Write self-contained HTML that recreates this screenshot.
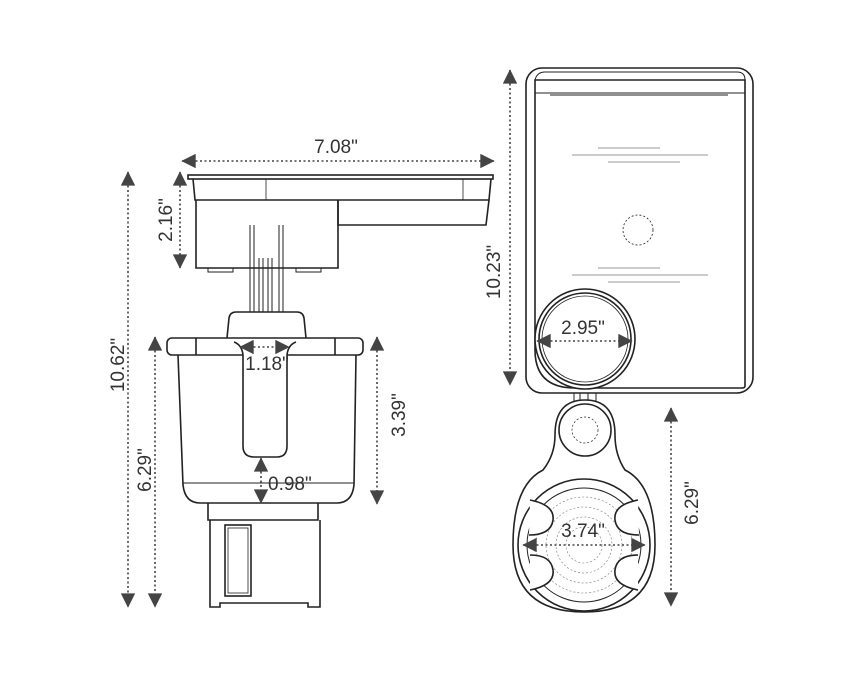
<!DOCTYPE html>
<html><head><style>body{margin:0;background:#fff}svg{display:block}text{font-family:"Liberation Sans",sans-serif;font-size:19px;fill:#333}</style></head><body>
<svg width="860" height="700" viewBox="0 0 860 700" xmlns="http://www.w3.org/2000/svg">
<defs>
<marker id="a" viewBox="0 0 10 10" refX="9.5" refY="5" markerWidth="10" markerHeight="9" orient="auto-start-reverse"><path d="M0,0L10,5L0,10z" fill="#444"/></marker>
</defs>
<g stroke="#222" stroke-width="1.6" fill="none">
<rect x="188" y="175" width="305" height="4" fill="#fff"/>
<path d="M193,179 L195,200 L489,200 L491,179"/>
<path d="M196,200 V268 H338 V200"/>
<path d="M338,200 V225 H486 L489,200"/>
<line x1="266" y1="179" x2="266" y2="200" stroke-width="0.8"/>
<line x1="463" y1="179" x2="463" y2="200" stroke-width="0.8"/>
<path d="M208,268 v4 h25 v-4 M296,268 v4 h25 v-4" stroke-width="1"/>
<path d="M250,225 V312 M254,225 V312 M279,225 V312 M283,225 V312 M259,258 V312 M263,258 V312 M268,258 V312 M272,258 V312" stroke-width="1"/>
<path d="M227,338 L229,318 Q230,312 236,312 H297 Q303,312 304,318 L306,338"/>
<rect x="167" y="338" width="196" height="17" rx="5" fill="#fff"/>
<line x1="196" y1="338" x2="196" y2="355"/><line x1="335" y1="338" x2="335" y2="355"/>
<path d="M178,355 L183,485 Q185,503 200,503 H337 Q352,503 354,485 L356,355"/>
<line x1="183" y1="483" x2="354" y2="483" stroke-width="1"/>
<path d="M234,342 Q242,345 243,355 V446 Q243,457 254,457 H277 Q287,457 287,446 V355 Q288,345 296,342" fill="#fff"/>
<path d="M208,503 V520 H318 V503 M210,520 V607 L220,607 L220,603 H308 V607 H320 V520"/>
<rect x="225" y="525" width="26" height="71"/>
<rect x="228" y="528" width="20" height="65" stroke-width="0.8"/>
<rect x="526" y="68" width="227" height="325" rx="16"/>
<path d="M535,80 H745 V386 Q745,388 742,388 H575 Q535,388 535,350 Z"/>
<path d="M535,80 Q537,72 545,72 H737 Q745,72 745,80 M535,93 H745 M550,95 H728" stroke-width="1"/>
<circle cx="585" cy="339" r="50" fill="#fff"/>
<circle cx="585" cy="339" r="46"/>
<circle cx="585" cy="339" r="43" stroke-width="0.8"/>
<circle cx="638" cy="230" r="15" stroke-dasharray="2,2" stroke-width="0.8"/>
<g stroke="#999" stroke-width="1"><path d="M598,148H660 M572,155H708 M608,162H680 M598,268H660 M572,275H708 M608,282H680"/></g>
<path d="M574,393 V418 M580,393 V418 M588,393 V418 M596,393 V418" stroke-width="1"/>
<path d="M555,435 Q555,400 585,400 Q615,400 615,435 Q615,455 625,470 Q655,485 655,545 Q655,612 584,612 Q513,612 513,545 Q513,485 543,470 Q555,455 555,435 Z" fill="#fff"/>
<circle cx="585" cy="430" r="26"/>
<circle cx="585" cy="430" r="13" stroke-dasharray="2,2" stroke-width="0.7"/>
<circle cx="584" cy="545" r="66"/>
<circle cx="584" cy="545" r="57" stroke-width="1"/>
<g stroke-dasharray="2,2" stroke-width="0.6" stroke="#777"><circle cx="584" cy="545" r="48"/><circle cx="584" cy="545" r="38"/><circle cx="584" cy="545" r="28"/><circle cx="584" cy="545" r="18"/></g>
<path d="M530,500 Q555,505 553,520 Q551,535 529,535 M530,555 Q551,555 553,570 Q555,585 530,590 M638,500 Q613,505 615,520 Q617,535 639,535 M638,555 Q617,555 615,570 Q613,585 638,590" fill="#fff"/>
</g>
<g stroke="#444" stroke-width="1.6" stroke-dasharray="2,2.5" marker-start="url(#a)" marker-end="url(#a)" fill="none">
<line x1="182" y1="161" x2="494" y2="161"/>
<line x1="180" y1="172" x2="180" y2="268"/>
<line x1="128" y1="172" x2="128" y2="607"/>
<line x1="155" y1="337" x2="155" y2="607"/>
<line x1="377" y1="337" x2="377" y2="504"/>
<line x1="240" y1="347" x2="289" y2="347"/>
<line x1="261" y1="458" x2="261" y2="503"/>
<line x1="510" y1="70" x2="510" y2="385"/>
<line x1="537" y1="341" x2="632" y2="341"/>
<line x1="523" y1="545" x2="645" y2="545"/>
<line x1="671" y1="408" x2="671" y2="606"/>
</g>
<text x="336" y="153" text-anchor="middle">7.08"</text>
<text x="267" y="370" text-anchor="middle">1.18"</text>
<text x="268" y="490">0.98"</text>
<text x="583" y="334" text-anchor="middle">2.95"</text>
<text x="583" y="537" text-anchor="middle">3.74"</text>
<text transform="translate(172,220) rotate(-90)" text-anchor="middle">2.16"</text>
<text transform="translate(124,365) rotate(-90)" text-anchor="middle">10.62"</text>
<text transform="translate(151,470) rotate(-90)" text-anchor="middle">6.29"</text>
<text transform="translate(405,415) rotate(-90)" text-anchor="middle">3.39"</text>
<text transform="translate(500,272) rotate(-90)" text-anchor="middle">10.23"</text>
<text transform="translate(698,503) rotate(-90)" text-anchor="middle">6.29"</text>
</svg>
</body></html>
